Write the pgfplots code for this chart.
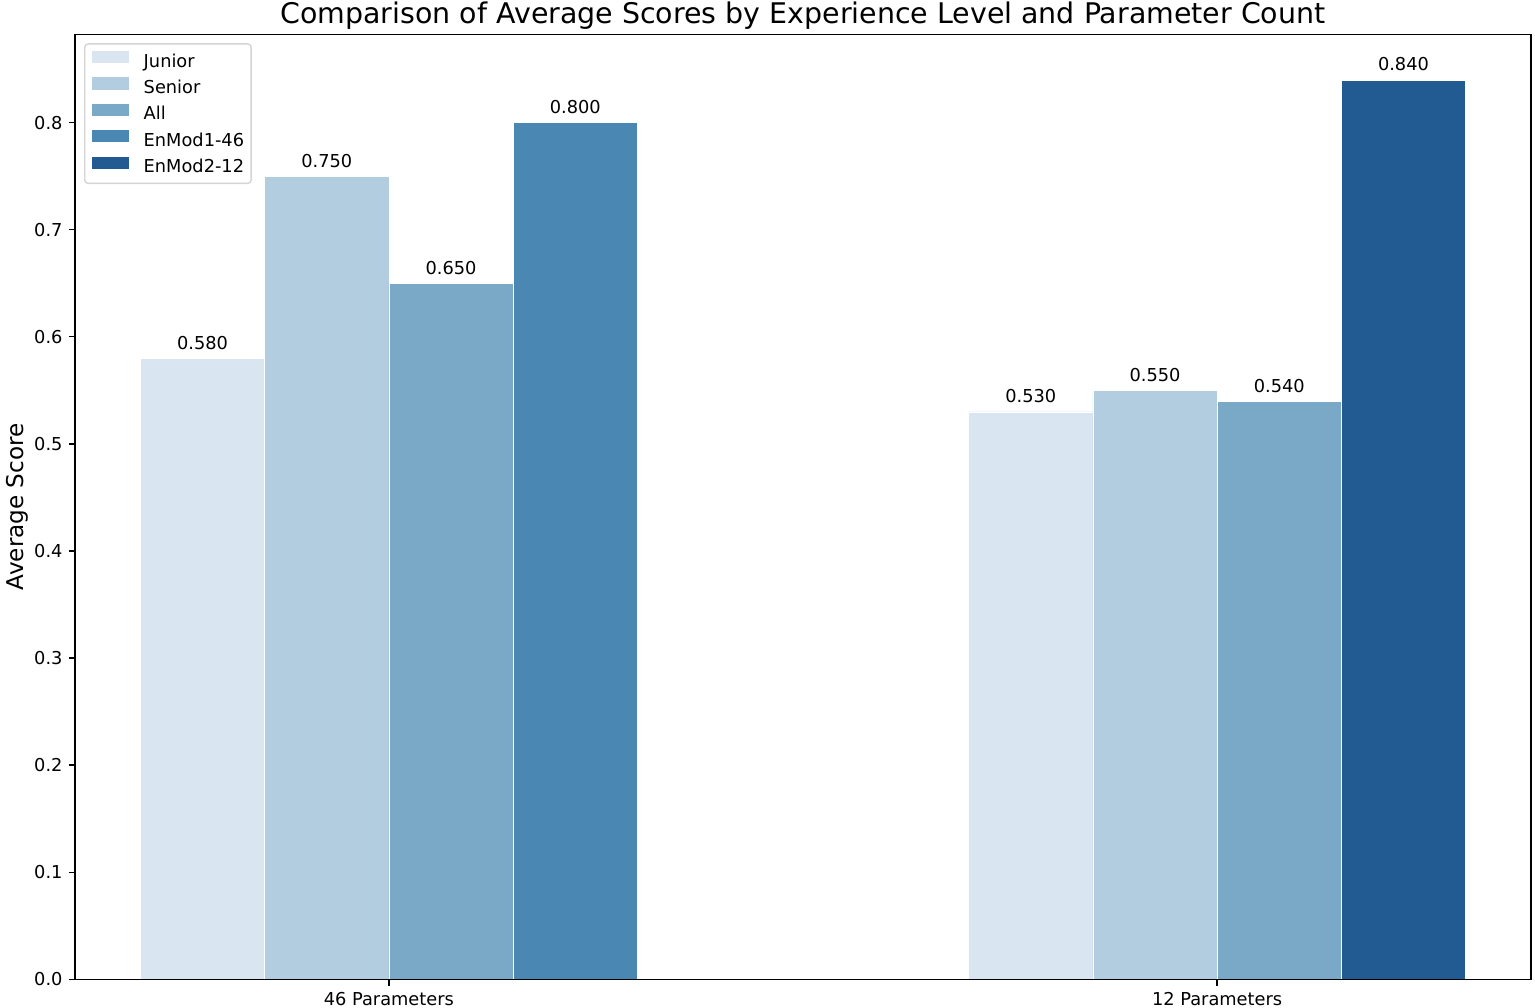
\documentclass[border=0pt]{standalone}
\usepackage{fontspec}
\setmainfont{DejaVu Sans}
\usepackage{pgfplots}
\pgfplotsset{compat=1.18}
\definecolor{cJ}{HTML}{D9E5F1}
\definecolor{cS}{HTML}{B3CDE0}
\definecolor{cA}{HTML}{7AA9C8}
\definecolor{cE1}{HTML}{4A87B2}
\definecolor{cE2}{HTML}{225B91}
\pgfplotsset{mybar/.style={ybar, bar width=0.15, bar shift=0pt, draw=white, line width=0.2pt, fill=#1}}
\begin{document}
\begin{tikzpicture}
\begin{axis}[
  name=ax, at={(0,0)}, anchor=south west,
  scale only axis, width=819pt, height=531.6pt,
  xmin=-0.379, xmax=1.379, ymin=0, ymax=0.8825,
  xtick={0,1}, xticklabels={46 Parameters, 12 Parameters},
  ytick={0,0.1,0.2,0.3,0.4,0.5,0.6,0.7,0.8},
  yticklabel style={/pgf/number format/fixed, /pgf/number format/fixed zerofill, /pgf/number format/precision=1},
  /pgf/number format/assume math mode=true,
  tick align=outside, major tick length=3.5pt,
  every tick/.style={black, line width=0.8pt},
  axis line style={line width=0.8pt},
  xtick pos=bottom, ytick pos=left,
  tick label style={font=\fontsize{10}{12}\selectfont},
  ylabel={Average Score},
  ylabel style={font=\fontsize{13}{15}\selectfont, at={(axis description cs:-0.0357,0.5)}, anchor=base},
  title={Comparison of Average Scores by Experience Level and Parameter Count},
  every axis title shift=0pt,
  title style={font=\fontsize{16}{19}\selectfont, at={(axis description cs:0.5,1)}, anchor=base, yshift=6pt},
  axis on top,
  nodes near coords={\pgfmathprintnumber[fixed,fixed zerofill,precision=3]{\pgfplotspointmeta}},
  every node near coord/.append style={font=\fontsize{10}{12}\selectfont, anchor=base, yshift=5pt, text=black},
  legend style={at={(axis description cs:0.00618,0.9905)}, anchor=north west,
    draw=black!17, line width=0.8pt, rounded corners=2pt, fill=white,
    inner xsep=4pt, inner ysep=4pt, row sep=3.8pt, column sep=8.4pt,
    font=\fontsize{10}{12}\selectfont,
    nodes={inner sep=0pt, text height=7.5pt, text depth=2pt}},
  legend cell align=left,
  legend image code/.code={\fill[#1, draw=none, sharp corners] (0pt,-0.5pt) rectangle (20.8pt,6.3pt);},
]
\addplot[mybar=cJ] coordinates {(-0.225,0.58) (0.775,0.53)};
\addplot[mybar=cS] coordinates {(-0.075,0.75) (0.925,0.55)};
\addplot[mybar=cA] coordinates {(0.075,0.65) (1.075,0.54)};
\addplot[mybar=cE1] coordinates {(0.225,0.80)};
\addplot[mybar=cE2] coordinates {(1.225,0.84)};
\legend{Junior, Senior, All, EnMod1-46, EnMod2-12}
\end{axis}
\pgfresetboundingbox
\useasboundingbox (-42.19pt,-16.14pt) rectangle (821.25pt,550.86pt);
\end{tikzpicture}
\end{document}
